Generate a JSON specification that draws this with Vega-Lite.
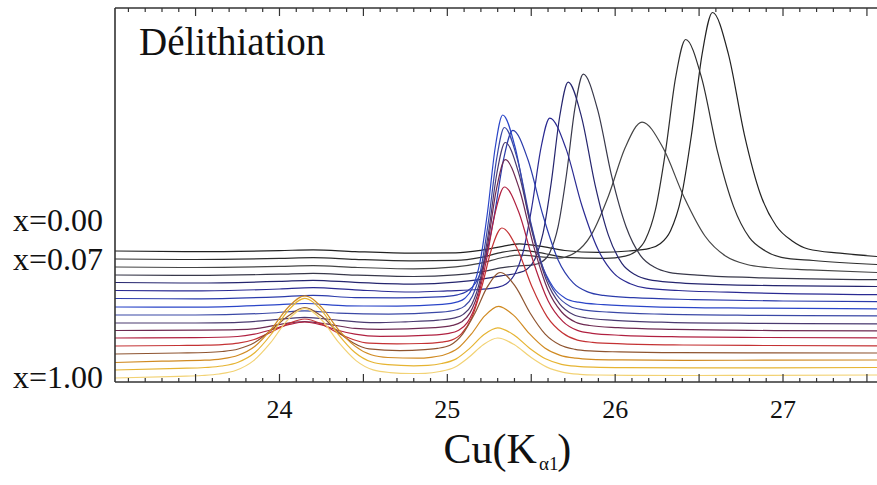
{
  "$schema": "https://vega.github.io/schema/vega-lite/v6.json",
  "width": 762,
  "height": 374,
  "autosize": {"type": "none"},
  "padding": {"left": 115, "top": 8, "right": 0, "bottom": 103},
  "background": "white",
  "config": {"view": {"stroke": null}},
  "datasets": {
    "minor": [{"v":23.1},{"v":23.2},{"v":23.3},{"v":23.4},{"v":23.6},{"v":23.7},{"v":23.8},{"v":23.9},{"v":24.1},{"v":24.2},{"v":24.3},{"v":24.4},{"v":24.6},{"v":24.7},{"v":24.8},{"v":24.9},{"v":25.1},{"v":25.2},{"v":25.3},{"v":25.4},{"v":25.6},{"v":25.7},{"v":25.8},{"v":25.9},{"v":26.1},{"v":26.2},{"v":26.3},{"v":26.4},{"v":26.6},{"v":26.7},{"v":26.8},{"v":26.9},{"v":27.1},{"v":27.2},{"v":27.3},{"v":27.4}],
    "major": [{"v":23.5},{"v":24},{"v":24.5},{"v":25},{"v":25.5},{"v":26},{"v":26.5},{"v":27},{"v":27.5}],
    "ticklabels": [{"v":24,"t":"24"},{"v":25,"t":"25"},{"v":26,"t":"26"},{"v":27,"t":"27"}],
    "curves": [
{"s":0,"x":23.02,"y":131},{"s":0,"x":23.5,"y":130.4},{"s":0,"x":24.0,"y":131.4},{"s":0,"x":24.2,"y":132.2},{"s":0,"x":24.45,"y":130.4},{"s":0,"x":24.8,"y":128.8},{"s":0,"x":25.05,"y":129.1},{"s":0,"x":25.2,"y":131.7},{"s":0,"x":25.33,"y":135.7},{"s":0,"x":25.43,"y":138.2},{"s":0,"x":25.55,"y":135.9},{"s":0,"x":25.7,"y":131.5},{"s":0,"x":25.9,"y":129.6},{"s":0,"x":26.08,"y":131},{"s":0,"x":26.205,"y":133.7},{"s":0,"x":26.268,"y":138.2},{"s":0,"x":26.33,"y":151.3},{"s":0,"x":26.393,"y":184.1},{"s":0,"x":26.455,"y":247.7},{"s":0,"x":26.518,"y":327.9},{"s":0,"x":26.58,"y":369.5},{"s":0,"x":26.675,"y":327.7},{"s":0,"x":26.77,"y":247.2},{"s":0,"x":26.865,"y":188},{"s":0,"x":26.96,"y":156},{"s":0,"x":27.055,"y":141},{"s":0,"x":27.15,"y":133},{"s":0,"x":27.34,"y":128.8},{"s":0,"x":27.56,"y":125.5},
{"s":1,"x":23.02,"y":123},{"s":1,"x":23.5,"y":122.5},{"s":1,"x":24.0,"y":123.6},{"s":1,"x":24.2,"y":124.4},{"s":1,"x":24.45,"y":122.7},{"s":1,"x":24.8,"y":121.2},{"s":1,"x":25.05,"y":121.6},{"s":1,"x":25.2,"y":124.6},{"s":1,"x":25.33,"y":129.9},{"s":1,"x":25.43,"y":131.8},{"s":1,"x":25.55,"y":129.4},{"s":1,"x":25.7,"y":124.7},{"s":1,"x":25.94,"y":123.7},{"s":1,"x":26.06,"y":125.9},{"s":1,"x":26.12,"y":130.2},{"s":1,"x":26.18,"y":142.2},{"s":1,"x":26.24,"y":172.3},{"s":1,"x":26.3,"y":230.7},{"s":1,"x":26.36,"y":304.3},{"s":1,"x":26.42,"y":342.5},{"s":1,"x":26.515,"y":304.1},{"s":1,"x":26.61,"y":230.3},{"s":1,"x":26.705,"y":175.6},{"s":1,"x":26.8,"y":144.3},{"s":1,"x":26.895,"y":131.1},{"s":1,"x":26.99,"y":124.7},{"s":1,"x":27.18,"y":121.5},{"s":1,"x":27.56,"y":117.5},
{"s":2,"x":23.02,"y":115},{"s":2,"x":23.5,"y":114.5},{"s":2,"x":24.0,"y":115.6},{"s":2,"x":24.2,"y":116.4},{"s":2,"x":24.45,"y":114.6},{"s":2,"x":24.8,"y":113.2},{"s":2,"x":25.05,"y":115.2},{"s":2,"x":25.2,"y":118.9},{"s":2,"x":25.33,"y":124.5},{"s":2,"x":25.43,"y":126.9},{"s":2,"x":25.56,"y":125.2},{"s":2,"x":25.66,"y":123.9},{"s":2,"x":25.76,"y":129.2},{"s":2,"x":25.86,"y":147.9},{"s":2,"x":25.96,"y":186},{"s":2,"x":26.06,"y":234.5},{"s":2,"x":26.16,"y":259.9},{"s":2,"x":26.285,"y":234.2},{"s":2,"x":26.41,"y":185},{"s":2,"x":26.535,"y":146},{"s":2,"x":26.66,"y":125.7},{"s":2,"x":26.785,"y":117.5},{"s":2,"x":26.91,"y":114.5},{"s":2,"x":27.16,"y":112.2},{"s":2,"x":27.56,"y":109.5},
{"s":3,"x":23.02,"y":107},{"s":3,"x":23.5,"y":106.6},{"s":3,"x":24.0,"y":107.8},{"s":3,"x":24.2,"y":108.7},{"s":3,"x":24.45,"y":106.9},{"s":3,"x":24.8,"y":105.5},{"s":3,"x":25.05,"y":107.1},{"s":3,"x":25.2,"y":110.2},{"s":3,"x":25.33,"y":114.4},{"s":3,"x":25.41,"y":116},{"s":3,"x":25.51,"y":117.2},{"s":3,"x":25.56,"y":119.7},{"s":3,"x":25.61,"y":129.3},{"s":3,"x":25.66,"y":155.4},{"s":3,"x":25.71,"y":207.5},{"s":3,"x":25.76,"y":273.6},{"s":3,"x":25.81,"y":307.8},{"s":3,"x":25.895,"y":272.6},{"s":3,"x":25.98,"y":205.3},{"s":3,"x":26.065,"y":155.2},{"s":3,"x":26.15,"y":126.7},{"s":3,"x":26.235,"y":114.7},{"s":3,"x":26.32,"y":109.7},{"s":3,"x":26.49,"y":106.9},{"s":3,"x":26.83,"y":104.4},{"s":3,"x":27.56,"y":102.3},
{"s":4,"x":23.02,"y":99.5},{"s":4,"x":23.5,"y":99},{"s":4,"x":24.0,"y":100.6},{"s":4,"x":24.2,"y":101.7},{"s":4,"x":24.45,"y":99.6},{"s":4,"x":24.8,"y":97.9},{"s":4,"x":25.05,"y":99.8},{"s":4,"x":25.2,"y":102.7},{"s":4,"x":25.32,"y":106.2},{"s":4,"x":25.42,"y":109},{"s":4,"x":25.47,"y":112.2},{"s":4,"x":25.52,"y":122.3},{"s":4,"x":25.57,"y":148.6},{"s":4,"x":25.62,"y":200.4},{"s":4,"x":25.67,"y":266},{"s":4,"x":25.72,"y":299.8},{"s":4,"x":25.8,"y":264.7},{"s":4,"x":25.88,"y":197.4},{"s":4,"x":25.96,"y":146.6},{"s":4,"x":26.04,"y":118.7},{"s":4,"x":26.12,"y":107.2},{"s":4,"x":26.2,"y":102.3},{"s":4,"x":26.36,"y":99.4},{"s":4,"x":26.68,"y":97.1},{"s":4,"x":27.56,"y":95.5},
{"s":5,"x":23.02,"y":91.5},{"s":5,"x":23.5,"y":91.1},{"s":5,"x":24.0,"y":93},{"s":5,"x":24.2,"y":94.3},{"s":5,"x":24.45,"y":92.1},{"s":5,"x":24.8,"y":90},{"s":5,"x":25.0,"y":91.1},{"s":5,"x":25.19,"y":92.5},{"s":5,"x":25.295,"y":94.6},{"s":5,"x":25.35,"y":98},{"s":5,"x":25.4,"y":107.3},{"s":5,"x":25.453,"y":130.9},{"s":5,"x":25.505,"y":176.5},{"s":5,"x":25.558,"y":234.1},{"s":5,"x":25.61,"y":263.9},{"s":5,"x":25.706,"y":233.9},{"s":5,"x":25.802,"y":176.3},{"s":5,"x":25.898,"y":132.5},{"s":5,"x":25.994,"y":108.3},{"s":5,"x":26.09,"y":98.3},{"s":5,"x":26.186,"y":93.8},{"s":5,"x":26.378,"y":91.5},{"s":5,"x":26.762,"y":89.4},{"s":5,"x":27.56,"y":87.4},
{"s":6,"x":23.02,"y":83.5},{"s":6,"x":23.5,"y":83.2},{"s":6,"x":24.0,"y":85.2},{"s":6,"x":24.2,"y":86.6},{"s":6,"x":24.45,"y":84.4},{"s":6,"x":24.7,"y":84.2},{"s":6,"x":24.95,"y":85.1},{"s":6,"x":25.06,"y":87.2},{"s":6,"x":25.115,"y":90.4},{"s":6,"x":25.17,"y":99.5},{"s":6,"x":25.225,"y":122.4},{"s":6,"x":25.28,"y":166.7},{"s":6,"x":25.335,"y":222.6},{"s":6,"x":25.39,"y":251.7},{"s":6,"x":25.48,"y":222.5},{"s":6,"x":25.57,"y":166.5},{"s":6,"x":25.66,"y":122.1},{"s":6,"x":25.75,"y":99.1},{"s":6,"x":25.84,"y":89.9},{"s":6,"x":25.93,"y":86.6},{"s":6,"x":26.11,"y":84.3},{"s":6,"x":26.47,"y":82.4},{"s":6,"x":27.0,"y":81},{"s":6,"x":27.56,"y":80.3},
{"s":7,"x":23.02,"y":75},{"s":7,"x":23.5,"y":74.9},{"s":7,"x":24.0,"y":77.4},{"s":7,"x":24.15,"y":78.5},{"s":7,"x":24.4,"y":76.1},{"s":7,"x":24.7,"y":75.9},{"s":7,"x":24.97,"y":77.7},{"s":7,"x":25.06,"y":80.1},{"s":7,"x":25.105,"y":83.8},{"s":7,"x":25.15,"y":94.2},{"s":7,"x":25.195,"y":120.2},{"s":7,"x":25.24,"y":170.5},{"s":7,"x":25.285,"y":234},{"s":7,"x":25.33,"y":267},{"s":7,"x":25.405,"y":234},{"s":7,"x":25.48,"y":170.5},{"s":7,"x":25.555,"y":121},{"s":7,"x":25.63,"y":95},{"s":7,"x":25.705,"y":83.6},{"s":7,"x":25.78,"y":79.8},{"s":7,"x":25.93,"y":77.3},{"s":7,"x":26.23,"y":75.2},{"s":7,"x":26.8,"y":73.9},{"s":7,"x":27.56,"y":73.2},
{"s":8,"x":23.02,"y":67},{"s":8,"x":23.5,"y":67},{"s":8,"x":23.95,"y":69},{"s":8,"x":24.15,"y":71.2},{"s":8,"x":24.35,"y":68.9},{"s":8,"x":24.65,"y":67.9},{"s":8,"x":24.96,"y":69.9},{"s":8,"x":25.055,"y":72.3},{"s":8,"x":25.103,"y":75.9},{"s":8,"x":25.15,"y":86.1},{"s":8,"x":25.198,"y":111.4},{"s":8,"x":25.245,"y":160.5},{"s":8,"x":25.293,"y":222.4},{"s":8,"x":25.34,"y":254.5},{"s":8,"x":25.418,"y":222.4},{"s":8,"x":25.496,"y":160.4},{"s":8,"x":25.574,"y":112.3},{"s":8,"x":25.652,"y":87},{"s":8,"x":25.73,"y":75.8},{"s":8,"x":25.808,"y":72.2},{"s":8,"x":25.964,"y":69.8},{"s":8,"x":26.276,"y":67.8},{"s":8,"x":26.8,"y":66.7},{"s":8,"x":27.56,"y":66.2},
{"s":9,"x":23.02,"y":59},{"s":9,"x":23.5,"y":59},{"s":9,"x":23.73,"y":59.4},{"s":9,"x":23.946,"y":61.8},{"s":9,"x":24.15,"y":64.7},{"s":9,"x":24.354,"y":61.7},{"s":9,"x":24.57,"y":59.3},{"s":9,"x":24.75,"y":60.2},{"s":9,"x":24.945,"y":61.9},{"s":9,"x":25.045,"y":64.1},{"s":9,"x":25.095,"y":67.6},{"s":9,"x":25.145,"y":77.3},{"s":9,"x":25.195,"y":101.8},{"s":9,"x":25.245,"y":149},{"s":9,"x":25.295,"y":208.5},{"s":9,"x":25.345,"y":239.5},{"s":9,"x":25.426,"y":208.5},{"s":9,"x":25.507,"y":148.9},{"s":9,"x":25.588,"y":102.7},{"s":9,"x":25.669,"y":78.2},{"s":9,"x":25.75,"y":67.5},{"s":9,"x":25.831,"y":64},{"s":9,"x":25.993,"y":61.7},{"s":9,"x":26.317,"y":59.7},{"s":9,"x":26.8,"y":58.7},{"s":9,"x":27.56,"y":58.2},
{"s":10,"x":23.02,"y":51.5},{"s":10,"x":23.5,"y":51.8},{"s":10,"x":23.75,"y":52.3},{"s":10,"x":23.87,"y":53.6},{"s":10,"x":23.994,"y":57.4},{"s":10,"x":24.15,"y":60.4},{"s":10,"x":24.306,"y":57.4},{"s":10,"x":24.45,"y":53.6},{"s":10,"x":24.6,"y":52.6},{"s":10,"x":24.925,"y":54.4},{"s":10,"x":25.03,"y":56.6},{"s":10,"x":25.083,"y":59.9},{"s":10,"x":25.135,"y":69.1},{"s":10,"x":25.188,"y":92.2},{"s":10,"x":25.24,"y":136.8},{"s":10,"x":25.293,"y":193.1},{"s":10,"x":25.345,"y":222.3},{"s":10,"x":25.429,"y":193},{"s":10,"x":25.513,"y":136.7},{"s":10,"x":25.597,"y":93.1},{"s":10,"x":25.681,"y":70},{"s":10,"x":25.765,"y":59.8},{"s":10,"x":25.849,"y":56.5},{"s":10,"x":26.017,"y":54.3},{"s":10,"x":26.353,"y":52.6},{"s":10,"x":26.8,"y":51.6},{"s":10,"x":27.56,"y":51.2},
{"s":11,"x":23.02,"y":44},{"s":11,"x":23.5,"y":44.4},{"s":11,"x":23.75,"y":45.5},{"s":11,"x":23.85,"y":47.8},{"s":11,"x":23.946,"y":52},{"s":11,"x":24.054,"y":57.3},{"s":11,"x":24.15,"y":60},{"s":11,"x":24.246,"y":57.3},{"s":11,"x":24.342,"y":52},{"s":11,"x":24.45,"y":47.8},{"s":11,"x":24.6,"y":45.6},{"s":11,"x":24.9,"y":46.9},{"s":11,"x":25.01,"y":48.7},{"s":11,"x":25.065,"y":51.6},{"s":11,"x":25.12,"y":59.7},{"s":11,"x":25.175,"y":80.1},{"s":11,"x":25.23,"y":119.5},{"s":11,"x":25.285,"y":169.2},{"s":11,"x":25.34,"y":195},{"s":11,"x":25.427,"y":169.2},{"s":11,"x":25.514,"y":119.5},{"s":11,"x":25.601,"y":81.1},{"s":11,"x":25.688,"y":60.7},{"s":11,"x":25.775,"y":51.6},{"s":11,"x":25.862,"y":48.7},{"s":11,"x":26.036,"y":46.7},{"s":11,"x":26.384,"y":45.2},{"s":11,"x":26.9,"y":44.5},{"s":11,"x":27.56,"y":44.2},
{"s":12,"x":23.02,"y":36},{"s":12,"x":23.4,"y":36.5},{"s":12,"x":23.562,"y":36.8},{"s":12,"x":23.658,"y":37.4},{"s":12,"x":23.754,"y":38.8},{"s":12,"x":23.85,"y":42.5},{"s":12,"x":23.946,"y":49.5},{"s":12,"x":24.054,"y":58.4},{"s":12,"x":24.15,"y":63},{"s":12,"x":24.246,"y":58.4},{"s":12,"x":24.342,"y":49.5},{"s":12,"x":24.438,"y":42.5},{"s":12,"x":24.534,"y":38.8},{"s":12,"x":24.7,"y":38.2},{"s":12,"x":24.845,"y":38.5},{"s":12,"x":24.965,"y":39.9},{"s":12,"x":25.025,"y":41.9},{"s":12,"x":25.085,"y":48.3},{"s":12,"x":25.145,"y":64.2},{"s":12,"x":25.205,"y":95},{"s":12,"x":25.265,"y":133.8},{"s":12,"x":25.325,"y":154},{"s":12,"x":25.415,"y":133.8},{"s":12,"x":25.505,"y":95},{"s":12,"x":25.595,"y":65.2},{"s":12,"x":25.685,"y":49.3},{"s":12,"x":25.775,"y":41.9},{"s":12,"x":25.865,"y":39.7},{"s":12,"x":26.045,"y":38.1},{"s":12,"x":26.405,"y":37},{"s":12,"x":26.9,"y":36.5},{"s":12,"x":27.56,"y":36.2},
{"s":13,"x":23.02,"y":28},{"s":13,"x":23.4,"y":29},{"s":13,"x":23.562,"y":29.5},{"s":13,"x":23.658,"y":30.5},{"s":13,"x":23.754,"y":33},{"s":13,"x":23.85,"y":39.2},{"s":13,"x":23.946,"y":51.2},{"s":13,"x":24.054,"y":66.3},{"s":13,"x":24.15,"y":74.3},{"s":13,"x":24.246,"y":66.4},{"s":13,"x":24.342,"y":51.3},{"s":13,"x":24.438,"y":39.3},{"s":13,"x":24.534,"y":33.1},{"s":13,"x":24.717,"y":31.4},{"s":13,"x":24.866,"y":32.4},{"s":13,"x":24.941,"y":33.6},{"s":13,"x":25.016,"y":36.8},{"s":13,"x":25.091,"y":47.9},{"s":13,"x":25.165,"y":69},{"s":13,"x":25.24,"y":95.6},{"s":13,"x":25.315,"y":109.5},{"s":13,"x":25.405,"y":95.6},{"s":13,"x":25.493,"y":69},{"s":13,"x":25.583,"y":47.9},{"s":13,"x":25.672,"y":37},{"s":13,"x":25.761,"y":32.7},{"s":13,"x":25.85,"y":31.1},{"s":13,"x":26.028,"y":30.1},{"s":13,"x":26.385,"y":29.3},{"s":13,"x":26.9,"y":29.1},{"s":13,"x":27.56,"y":29},
{"s":14,"x":23.02,"y":19.5},{"s":14,"x":23.3,"y":20.9},{"s":14,"x":23.556,"y":21.8},{"s":14,"x":23.656,"y":23.2},{"s":14,"x":23.754,"y":26.8},{"s":14,"x":23.854,"y":35.8},{"s":14,"x":23.952,"y":53},{"s":14,"x":24.052,"y":74.8},{"s":14,"x":24.15,"y":86.1},{"s":14,"x":24.25,"y":74.9},{"s":14,"x":24.348,"y":53.2},{"s":14,"x":24.448,"y":36.1},{"s":14,"x":24.546,"y":27.2},{"s":14,"x":24.646,"y":24.5},{"s":14,"x":24.822,"y":23.8},{"s":14,"x":24.902,"y":24.7},{"s":14,"x":24.983,"y":27.2},{"s":14,"x":25.063,"y":33.7},{"s":14,"x":25.144,"y":48.2},{"s":14,"x":25.224,"y":66.3},{"s":14,"x":25.305,"y":75.7},{"s":14,"x":25.397,"y":66.4},{"s":14,"x":25.489,"y":48.3},{"s":14,"x":25.581,"y":34},{"s":14,"x":25.673,"y":26.6},{"s":14,"x":25.765,"y":23.8},{"s":14,"x":25.857,"y":22.7},{"s":14,"x":26.041,"y":22.1},{"s":14,"x":26.409,"y":21.7},{"s":14,"x":26.9,"y":21.8},{"s":14,"x":27.56,"y":22},
{"s":15,"x":23.02,"y":12},{"s":15,"x":23.4,"y":13.6},{"s":15,"x":23.556,"y":14.5},{"s":15,"x":23.656,"y":16},{"s":15,"x":23.754,"y":19.8},{"s":15,"x":23.854,"y":29.5},{"s":15,"x":23.952,"y":48},{"s":15,"x":24.052,"y":71.5},{"s":15,"x":24.15,"y":83.6},{"s":15,"x":24.25,"y":71.6},{"s":15,"x":24.348,"y":48.2},{"s":15,"x":24.448,"y":29.8},{"s":15,"x":24.546,"y":20.2},{"s":15,"x":24.646,"y":17.3},{"s":15,"x":24.8,"y":16.2},{"s":15,"x":24.884,"y":16.6},{"s":15,"x":24.966,"y":18.5},{"s":15,"x":25.05,"y":22.9},{"s":15,"x":25.133,"y":33.6},{"s":15,"x":25.217,"y":47.2},{"s":15,"x":25.3,"y":54.2},{"s":15,"x":25.395,"y":47.3},{"s":15,"x":25.49,"y":33.8},{"s":15,"x":25.585,"y":23.2},{"s":15,"x":25.68,"y":17.7},{"s":15,"x":25.775,"y":15.6},{"s":15,"x":25.869,"y":14.8},{"s":15,"x":26.059,"y":14.3},{"s":15,"x":26.439,"y":14.1},{"s":15,"x":26.9,"y":14.1},{"s":15,"x":27.56,"y":14.5},
{"s":16,"x":23.02,"y":4},{"s":16,"x":23.4,"y":5.7},{"s":16,"x":23.538,"y":6.5},{"s":16,"x":23.64,"y":8},{"s":16,"x":23.742,"y":11.7},{"s":16,"x":23.844,"y":21.1},{"s":16,"x":23.946,"y":39.1},{"s":16,"x":24.048,"y":61.9},{"s":16,"x":24.15,"y":73.7},{"s":16,"x":24.252,"y":62},{"s":16,"x":24.354,"y":39.3},{"s":16,"x":24.456,"y":21.4},{"s":16,"x":24.558,"y":12.1},{"s":16,"x":24.66,"y":9.4},{"s":16,"x":24.783,"y":8.5},{"s":16,"x":24.869,"y":8.7},{"s":16,"x":24.955,"y":10.5},{"s":16,"x":25.041,"y":14.5},{"s":16,"x":25.128,"y":24.7},{"s":16,"x":25.214,"y":37.3},{"s":16,"x":25.3,"y":44},{"s":16,"x":25.398,"y":37.4},{"s":16,"x":25.496,"y":24.9},{"s":16,"x":25.593,"y":14.9},{"s":16,"x":25.691,"y":9.7},{"s":16,"x":25.789,"y":7.7},{"s":16,"x":25.887,"y":7},{"s":16,"x":26.082,"y":6.7},{"s":16,"x":26.473,"y":6.5},{"s":16,"x":26.9,"y":6.6},{"s":16,"x":27.56,"y":7}
    ]
  },
  "layer": [
    {
      "data": {"name": "curves"},
      "mark": {"type": "line", "interpolate": "monotone", "strokeWidth": 1.2, "clip": true},
      "encoding": {
        "x": {"field": "x", "type": "quantitative",
          "scale": {"domain": [23.02, 27.56], "nice": false, "zero": false},
          "axis": null},
        "y": {"field": "y", "type": "quantitative",
          "scale": {"domain": [0, 374], "nice": false, "zero": false},
          "axis": null},
        "color": {"field": "s", "type": "nominal", "legend": null,
          "scale": {"domain": [0,1,2,3,4,5,6,7,8,9,10,11,12,13,14,15,16],
            "range": ["#222222","#2e2e2e","#444444","#38384a","#25256e","#2a2a92","#2b3bab","#2a45c8","#3a48a6","#4a3a70","#6e2a52","#b02040","#c43234","#8e5430","#d08a22","#e6b432","#f2d274"]}}
      }
    },
    {
      "data": {"values": [{}]},
      "mark": {"type": "rule", "color": "#333333", "strokeWidth": 1.6},
      "encoding": {
        "x": {"datum": 23.02, "type": "quantitative", "axis": null},
        "y": {"datum": 0, "type": "quantitative", "axis": null},
        "y2": {"datum": 374}
      }
    },
    {
      "data": {"values": [{}]},
      "mark": {"type": "rule", "color": "#333333", "strokeWidth": 1.6},
      "encoding": {
        "x": {"datum": 23.02, "type": "quantitative", "axis": null},
        "x2": {"datum": 27.56},
        "y": {"datum": 0, "type": "quantitative", "axis": null}
      }
    },
    {
      "data": {"values": [{}]},
      "mark": {"type": "rule", "color": "#333333", "strokeWidth": 1.6},
      "encoding": {
        "x": {"datum": 23.02, "type": "quantitative", "axis": null},
        "x2": {"datum": 27.56},
        "y": {"datum": 374, "type": "quantitative", "axis": null}
      }
    },
    {
      "data": {"name": "minor"},
      "mark": {"type": "rule", "color": "#333333", "strokeWidth": 1.2},
      "encoding": {
        "x": {"field": "v", "type": "quantitative", "axis": null},
        "y": {"datum": 0, "type": "quantitative", "axis": null},
        "y2": {"datum": 4}
      }
    },
    {
      "data": {"name": "major"},
      "mark": {"type": "rule", "color": "#333333", "strokeWidth": 1.2},
      "encoding": {
        "x": {"field": "v", "type": "quantitative", "axis": null},
        "y": {"datum": 0, "type": "quantitative", "axis": null},
        "y2": {"datum": 8}
      }
    },
    {
      "data": {"name": "minor"},
      "mark": {"type": "rule", "color": "#333333", "strokeWidth": 1.2},
      "encoding": {
        "x": {"field": "v", "type": "quantitative", "axis": null},
        "y": {"datum": 374, "type": "quantitative", "axis": null},
        "y2": {"datum": 370}
      }
    },
    {
      "data": {"name": "major"},
      "mark": {"type": "rule", "color": "#333333", "strokeWidth": 1.2},
      "encoding": {
        "x": {"field": "v", "type": "quantitative", "axis": null},
        "y": {"datum": 374, "type": "quantitative", "axis": null},
        "y2": {"datum": 366}
      }
    },
    {
      "data": {"name": "ticklabels"},
      "mark": {"type": "text", "align": "center", "baseline": "alphabetic", "font": "Liberation Serif", "fontSize": 26, "color": "#111111", "clip": false},
      "encoding": {
        "x": {"field": "v", "type": "quantitative", "axis": null},
        "y": {"datum": -36, "type": "quantitative", "axis": null},
        "text": {"field": "t"}
      }
    },
    {
      "data": {"values": [{"label": "x=0.00", "level": 151}, {"label": "x=0.07", "level": 112}, {"label": "x=1.00", "level": -6}]},
      "mark": {"type": "text", "align": "right", "baseline": "alphabetic", "dx": -12, "font": "Liberation Serif", "fontSize": 32, "color": "#111111", "clip": false},
      "encoding": {
        "x": {"datum": 23.02, "type": "quantitative", "axis": null},
        "y": {"field": "level", "type": "quantitative", "axis": null},
        "text": {"field": "label"}
      }
    },
    {
      "data": {"values": [{"label": "Délithiation"}]},
      "mark": {"type": "text", "align": "left", "baseline": "alphabetic", "font": "Liberation Serif", "fontSize": 39, "color": "#111111", "clip": false},
      "encoding": {
        "x": {"datum": 23.163, "type": "quantitative", "axis": null},
        "y": {"datum": 327, "type": "quantitative", "axis": null},
        "text": {"field": "label"}
      }
    },
    {
      "data": {"values": [{"label": "Cu(K"}]},
      "mark": {"type": "text", "align": "right", "baseline": "alphabetic", "font": "Liberation Serif", "fontSize": 42, "color": "#111111", "clip": false},
      "encoding": {
        "x": {"datum": 25.534, "type": "quantitative", "axis": null},
        "y": {"datum": -81, "type": "quantitative", "axis": null},
        "text": {"field": "label"}
      }
    },
    {
      "data": {"values": [{"label": "α1"}]},
      "mark": {"type": "text", "align": "left", "baseline": "alphabetic", "font": "Liberation Serif", "fontSize": 19, "color": "#111111", "clip": false},
      "encoding": {
        "x": {"datum": 25.546, "type": "quantitative", "axis": null},
        "y": {"datum": -88, "type": "quantitative", "axis": null},
        "text": {"field": "label"}
      }
    },
    {
      "data": {"values": [{"label": ")"}]},
      "mark": {"type": "text", "align": "left", "baseline": "alphabetic", "font": "Liberation Serif", "fontSize": 42, "color": "#111111", "clip": false},
      "encoding": {
        "x": {"datum": 25.655, "type": "quantitative", "axis": null},
        "y": {"datum": -81, "type": "quantitative", "axis": null},
        "text": {"field": "label"}
      }
    }
  ]
}
